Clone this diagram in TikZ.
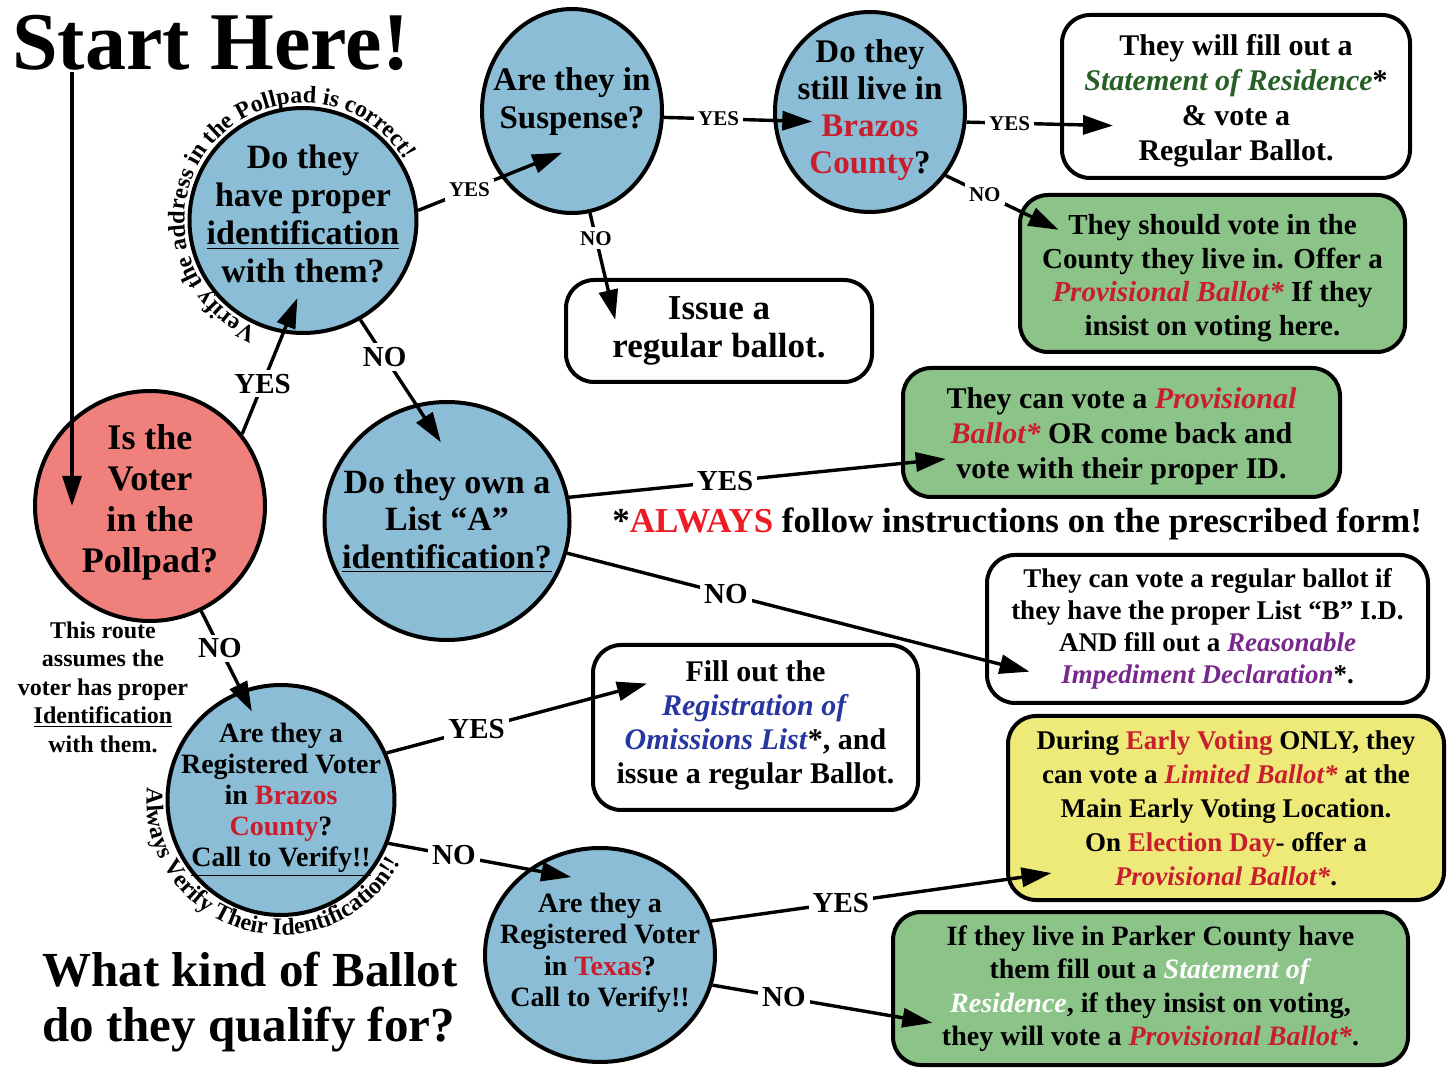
\documentclass[tikz,border=0pt]{standalone}
\usepackage{fontspec}
\setmainfont{Liberation Serif}
\usetikzlibrary{shapes.geometric,arrows.meta,decorations.text}

\definecolor{qblue}{RGB}{139,190,214}
\definecolor{qred}{RGB}{240,128,124}
\definecolor{okgreen}{RGB}{139,195,136}
\definecolor{warnyellow}{RGB}{238,234,122}
\definecolor{txtred}{RGB}{200,30,45}
\definecolor{brightred}{RGB}{237,28,36}
\definecolor{txtgreen}{RGB}{40,95,40}
\definecolor{txtpurple}{RGB}{120,40,140}
\definecolor{txtblue}{RGB}{40,55,160}

% extra depth under the last line lifts the text, extra height on the first line drops it
\newcommand{\liftby}[1]{\rule[-#1pt]{0pt}{0pt}}
\newcommand{\dropby}[1]{\rule{0pt}{#1pt}}

\begin{document}
\begin{tikzpicture}[x=0.5pt, y=0.5pt,
question/.style = {ellipse, draw=black, line width=2pt, fill=qblue, inner sep=-20pt, align=center, font=\bfseries\fontsize{16.5}{19}\selectfont},
answer/.style = {rectangle, rounded corners=14pt, draw=black, line width=2pt, fill=white, align=center, font=\bfseries\fontsize{15}{17.5}\selectfont},
arr/.style = {-{Triangle[length=15pt,width=9.5pt]}, line width=1.7pt},
lbl/.style = {fill=white, inner sep=2pt, font=\bfseries\fontsize{14.5}{15}\selectfont},
slbl/.style = {lbl, font=\bfseries\fontsize{10.5}{11}\selectfont}]
\useasboundingbox (0,0) rectangle (1447,1067);

\node[anchor=base west, inner sep=0, font=\bfseries\fontsize{41}{45}\selectfont] at (12,997) (title) {Start Here!};
\node[anchor=north west, inner sep=0, align=left, font=\bfseries\fontsize{24.5}{27.5}\selectfont] at (42,115) (kind) {What kind of Ballot\\do they qualify for?};
\node[align=center, font=\bfseries\fontsize{12}{14.25}\selectfont] at (103,380) (route) {This route\\assumes the\\voter has proper\\\underline{Identification}\\with them.};
\node[anchor=base west, inner sep=0, font=\bfseries\fontsize{17.5}{20}\selectfont] at (612,534) (always) {*\textcolor{brightred}{ALWAYS} follow instructions on the prescribed form!};

% questions
\node[question, shape=circle, fill=qred, minimum size=115pt, font=\bfseries\fontsize{18}{20.5}\selectfont] at (150,561) (pp) {Is the\\Voter\\in the\\Pollpad?\liftby{7}};
\node[question, minimum width=113.5pt, minimum height=112.5pt, font=\bfseries\fontsize{17}{19}\selectfont] at (303,846.5) (idc) {Do they\\have proper\\\underline{identification}\\with them?\liftby{6.5}};
\node[question, minimum width=90pt, minimum height=102pt] at (572,956) (susp) {Are they in\\Suspense?\liftby{13}};
\node[question, minimum width=95pt, minimum height=100pt, font=\bfseries\fontsize{16.5}{18.5}\selectfont] at (870,955) (still) {Do they\\still live in\\\textcolor{txtred}{Brazos}\\\textcolor{txtred}{County}?\liftby{5}};
\node[question, minimum width=122.5pt, minimum height=119pt, font=\bfseries\fontsize{17}{18.75}\selectfont] at (447,546) (lista) {Do they own a\\List ``A''\\\underline{identification?}};
\node[question, minimum width=113.5pt, minimum height=115pt, font=\bfseries\fontsize{14}{15.5}\selectfont] at (281,267) (regbrazos) {Are they a\\Registered Voter\\in \textcolor{txtred}{Brazos}\\\textcolor{txtred}{County}?\\\underline{Call to Verify!!}};
\node[question, minimum width=115pt, minimum height=107pt, font=\bfseries\fontsize{14}{15.75}\selectfont] at (600,112) (regtexas) {Are they a\\Registered Voter\\in \textcolor{txtred}{Texas}?\\Call to Verify!!\liftby{5}};

% answers
\node[answer, minimum width=174pt, minimum height=81.5pt] at (1236,970.5) (sor) {\dropby{15.2}They will fill out a\\\textcolor{txtgreen}{\textit{Statement of Residence}}*\\\& vote a\\Regular Ballot.};
\node[answer, fill=okgreen, minimum width=192.5pt, minimum height=78.5pt, font=\bfseries\fontsize{14.5}{16.75}\selectfont] at (1212.5,793.5) (othercounty) {\dropby{14.8}They should vote in the\\County they live in. Offer a\\\textcolor{txtred}{\textit{Provisional Ballot*}} If they\\insist on voting here.};
\node[answer, minimum width=153pt, minimum height=51pt, font=\bfseries\fontsize{17.5}{19}\selectfont] at (719,736) (regular) {Issue a\\regular ballot.};
\node[answer, fill=okgreen, minimum width=218.5pt, minimum height=64.5pt] at (1121.5,634.5) (provid) {\dropby{14.2}They can vote a \textcolor{txtred}{\textit{Provisional}}\\\textcolor{txtred}{\textit{Ballot*}} OR come back and\\vote with their proper ID.};
\node[answer, minimum width=220.5pt, minimum height=74pt, font=\bfseries\fontsize{13.5}{16}\selectfont] at (1207.5,438) (listb) {They can vote a regular ballot if\\they have the proper List ``B'' I.D.\\AND fill out a \textcolor{txtpurple}{\textit{Reasonable}}\\\textcolor{txtpurple}{\textit{Impediment Declaration}}*.};
\node[answer, minimum width=162.5pt, minimum height=82.5pt, font=\bfseries\fontsize{15}{17}\selectfont] at (755.5,339.5) (omit) {Fill out the\\\textcolor{txtblue}{\textit{Registration of}}\\\textcolor{txtblue}{\textit{Omissions List}}*, and\\issue a regular Ballot.\liftby{5}};
\node[answer, fill=warnyellow, minimum width=218pt, minimum height=92pt, font=\bfseries\fontsize{13.5}{17}\selectfont] at (1226,259) (limited) {During \textcolor{txtred}{Early Voting} ONLY, they\\can vote a \textcolor{txtred}{\textit{Limited Ballot*}} at the\\Main Early Voting Location.\\On \textcolor{txtred}{Election Day}- offer a\\\textcolor{txtred}{\textit{Provisional Ballot*}}.};
\node[answer, fill=okgreen, minimum width=257.5pt, minimum height=76.5pt, font=\bfseries\fontsize{14}{16.75}\selectfont] at (1150.5,78.5) (parker) {If they live in Parker County have\\them fill out a \textcolor{white}{\textit{Statement of}}\\\textcolor{white}{\textit{Residence}}, if they insist on voting,\\they will vote a \textcolor{txtred}{\textit{Provisional Ballot*}}.};

% text round the circles
\path[decorate, decoration={text along path, text align=center, text={|\bfseries\fontsize{12}{12}\selectfont|Verify the address in the Pollpad is correct!}}] (idc.center) ++(251:59.25pt and 58.75pt) arc[start angle=251, end angle=27, x radius=59.25pt, y radius=58.75pt];
\path[decorate, decoration={text along path, text align=center, text={|\bfseries\fontsize{12}{12}\selectfont|Always Verify Their Identification!!}}] (regbrazos.center) ++(172:67.25pt and 67.5pt) arc[start angle=172, end angle=335, x radius=67.25pt, y radius=67.5pt];

% connectors
\coordinate (go) at (72,995);
\draw[arr] (go) -- (go |- pp);
\draw[arr, shorten >=-19pt] (pp.38) -- node[lbl, pos=0.5] {YES} (idc.260);
\draw[arr, shorten >=-33pt] (idc.5) -- node[slbl, pos=0.62] {YES} (susp.223);
\draw[arr, shorten >=-19.5pt] (susp.-4) -- node[slbl] {YES} (still.185);
\draw[arr, shorten >=-26.5pt] (still.-6) -- node[slbl, pos=0.46] {YES} (sor.189);
\draw[arr, shorten >=-22.5pt] (still.-40) -- node[slbl, pos=0.54] {NO} (othercounty.162);
\draw[arr, shorten >=-21.5pt] (susp.-80) -- node[slbl, pos=0.39] {NO} (regular.155);
\draw[arr, shorten >=-23pt] (idc.-60) -- node[lbl, pos=0.44] {NO} (lista.105);
\draw[arr, shorten >=-22.5pt] (lista.11) -- node[lbl, pos=0.47] {YES} (provid.188);
\draw[arr, shorten >=-23pt] (lista.-15) -- node[lbl, pos=0.38] {NO} (listb.188);
\draw[arr, shorten >=-12pt] (pp.-64) -- node[lbl, pos=0.47] {NO} (regbrazos.110);
\draw[arr, shorten >=-29pt] (regbrazos.24) -- node[lbl, pos=0.44] {YES} (omit.170);
\draw[arr, shorten >=-22pt] (regbrazos.-22) -- node[lbl, pos=0.47] {NO} (regtexas.130);
\draw[arr, shorten >=-23pt] (regtexas.17) -- node[lbl, pos=0.44] {YES} (limited.198);
\draw[arr, shorten >=-21pt] (regtexas.-15) -- node[lbl, pos=0.40] {NO} (parker.186);
\end{tikzpicture}
\end{document}
